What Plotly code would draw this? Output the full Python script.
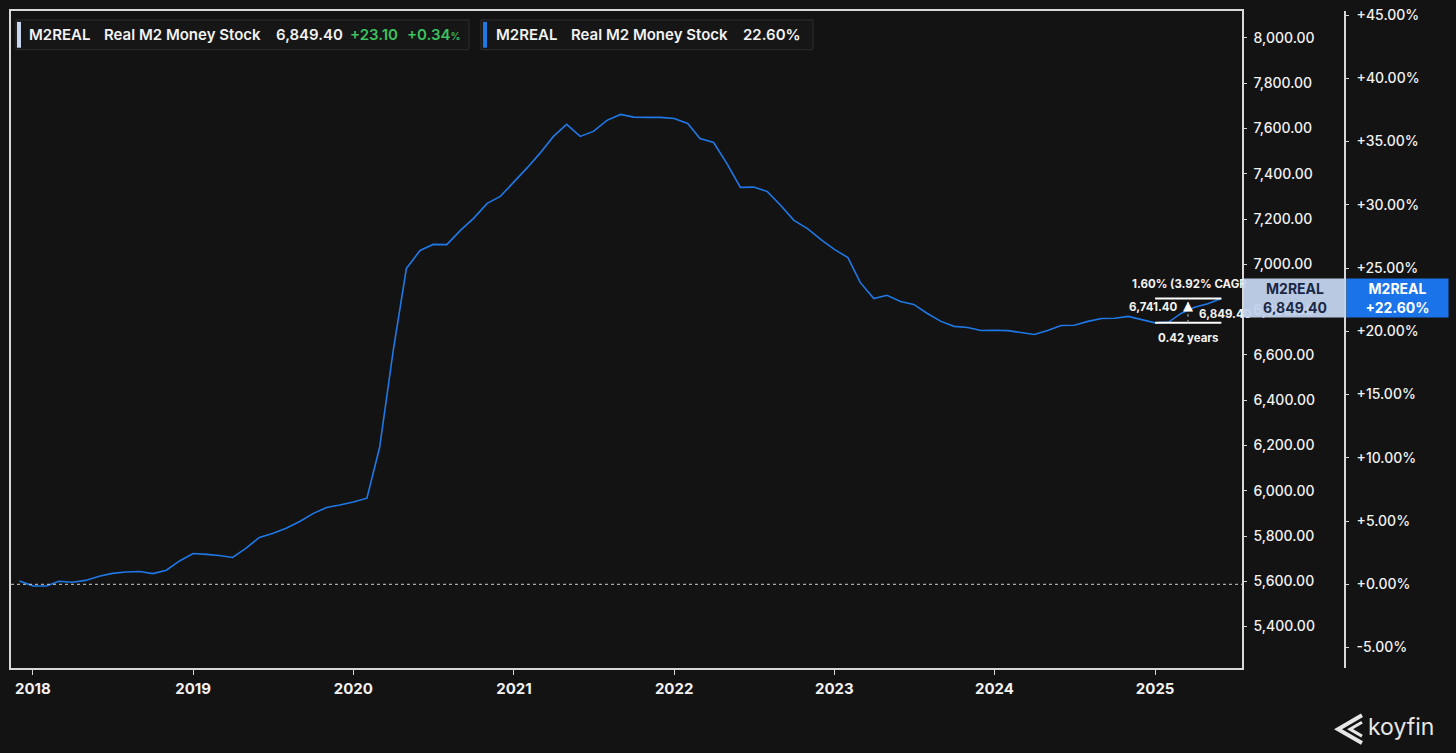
import plotly.graph_objects as go

W, H = 1456, 753

# ---------------- data ----------------
start_year, start_month = 2017, 12
m2real = [
    5601, 5580, 5579, 5600, 5596, 5604, 5622, 5635, 5641, 5643, 5634, 5649, 5690,   # 2017-12 .. 2018-12
    5723, 5719, 5714, 5705, 5745, 5794, 5811, 5834, 5864, 5899, 5926, 5937,         # 2019
    5950, 5967, 6192, 6620, 6982, 7061, 7088, 7087, 7150, 7203, 7269, 7300,         # 2020
    7362, 7428, 7490, 7565, 7618, 7565, 7587, 7636, 7662, 7650, 7649, 7649,         # 2021
    7644, 7622, 7556, 7538, 7446, 7340, 7341, 7322, 7260, 7194, 7158, 7110,         # 2022
    7066, 7030, 6920, 6849, 6863, 6836, 6823, 6783, 6748, 6726, 6721, 6708,         # 2023
    6709, 6707, 6699, 6690, 6708, 6730, 6731, 6748, 6761, 6762, 6770, 6757,         # 2024
    6741.4, 6745, 6783, 6810, 6826.3, 6849.4,                                      # 2025
]
dates = []
y, m = start_year, start_month
for _ in m2real:
    dates.append(f"{y:04d}-{m:02d}-01")
    m += 1
    if m > 12:
        m = 1
        y += 1

last_value = 6849.40
change_abs = "+23.10"
change_pct = "+0.34"
total_pct = 22.60
base_value = last_value / (1 + total_pct / 100)
pct_values = [(v / base_value - 1) * 100 for v in m2real]

year_ticks = ["2018-01-01", "2019-01-01", "2020-01-01", "2021-01-01",
              "2022-01-01", "2023-01-01", "2024-01-01", "2025-01-01"]
year_labels = ["2018", "2019", "2020", "2021", "2022", "2023", "2024", "2025"]
value_ticks = list(range(5400, 8001, 200))
pct_ticks = list(range(-5, 46, 5))
pct_labels = [f"{v:+.2f}%" for v in pct_ticks]

x_range = ["2017-11-12", "2025-07-18"]
y_range = [5219, 8119]
pct_range = [(y_range[0] / base_value - 1) * 100, (y_range[1] / base_value - 1) * 100]

meas_start, meas_end, meas_mid = "2025-01-01", "2025-06-01", "2025-03-17"
meas_start_val, meas_end_val = 6741.40, 6849.40
meas_text = "1.60% (3.92% CAGR"
meas_years = "0.42 years"

# ---------------- style ----------------
BG = "#131313"
FG = "#f2f2f2"
LINE = "#d8d8d8"
BLUE = "#1f78e6"
GREEN = "#3cc15e"
FONT = "Inter"

def px(x):
    return x / W

def py(yy):
    return 1 - yy / H

fig = go.Figure()
fig.add_trace(go.Scatter(x=dates, y=m2real, mode="lines",
                         line=dict(color=BLUE, width=1.6), hoverinfo="skip",
                         showlegend=False))
fig.add_trace(go.Scatter(x=dates, y=pct_values, mode="lines", yaxis="y2",
                         line=dict(color=BLUE, width=0), opacity=0, hoverinfo="skip",
                         showlegend=False))

fig.update_layout(
    width=W, height=H,
    paper_bgcolor=BG, plot_bgcolor=BG,
    margin=dict(l=0, r=0, t=0, b=0),
    font=dict(family=FONT, color=FG),
    showlegend=False,
    xaxis=dict(
        domain=[px(11), px(1242)], type="date", range=x_range,
        tickmode="array", tickvals=year_ticks, ticktext=year_labels,
        showgrid=False, zeroline=False,
        showline=True, mirror=True, linecolor=LINE, linewidth=1.5,
        ticks="outside", ticklen=6, tickcolor=LINE, tickwidth=1,
        tickfont=dict(size=15, color=FG, family=FONT, weight=700),
        ticklabelstandoff=1,
    ),
    yaxis=dict(
        domain=[1 - 667 / H, 1 - 6 / H], range=y_range, side="right",
        tickmode="array", tickvals=value_ticks,
        ticktext=[f"{v:,.2f}" for v in value_ticks],
        showgrid=False, zeroline=False,
        showline=True, mirror=True, linecolor=LINE, linewidth=1.5,
        ticks="outside", ticklen=3, tickcolor=LINE,
        tickfont=dict(size=14, color=FG, family=FONT, weight=500),
        ticklabelstandoff=4,
    ),
    yaxis2=dict(
        overlaying="y", anchor="free", position=px(1345), side="right",
        range=pct_range, tickmode="array", tickvals=pct_ticks, ticktext=pct_labels,
        showgrid=False, zeroline=False,
        showline=True, linecolor=LINE, linewidth=1.5,
        ticks="outside", ticklen=3, tickcolor=LINE,
        tickfont=dict(size=14, color=FG, family=FONT, weight=500),
        ticklabelstandoff=5,
    ),
)

shapes = []
# baseline (0%) dotted line
shapes.append(dict(type="line", xref="x domain", yref="y", x0=0, x1=1,
                   y0=base_value, y1=base_value,
                   line=dict(color="#cfcfcf", width=1, dash="dot")))
# measurement tool
shapes.append(dict(type="line", xref="x", yref="y", x0=meas_start, x1=meas_end,
                   y0=meas_end_val, y1=meas_end_val, line=dict(color="#ffffff", width=2)))
shapes.append(dict(type="line", xref="x", yref="y", x0=meas_start, x1=meas_end,
                   y0=meas_start_val, y1=meas_start_val, line=dict(color="#ffffff", width=2)))
shapes.append(dict(type="line", xref="x", yref="y", x0=meas_mid, x1=meas_mid,
                   y0=meas_start_val, y1=meas_end_val, line=dict(color="#bbbbbb", width=1, dash="dot")))

# legend boxes
shapes.append(dict(type="rect", xref="paper", yref="paper", x0=px(16), x1=px(469),
                   y0=py(45), y1=py(15), fillcolor="#161616",
                   line=dict(color="#2e2e2e", width=1)))
shapes.append(dict(type="rect", xref="paper", yref="paper", x0=px(17), x1=px(21),
                   y0=py(43), y1=py(17), fillcolor="#c9d7f0", line=dict(width=0)))
shapes.append(dict(type="rect", xref="paper", yref="paper", x0=px(481), x1=px(813),
                   y0=py(45), y1=py(15), fillcolor="#161616",
                   line=dict(color="#2e2e2e", width=1)))
shapes.append(dict(type="rect", xref="paper", yref="paper", x0=px(483), x1=px(487),
                   y0=py(43), y1=py(17), fillcolor=BLUE, line=dict(width=0)))

# koyfin logo icon (stylised chevrons)
shapes.append(dict(type="path", xref="paper", yref="paper",
                   path=f"M {px(1362)} {py(715)} L {px(1338)} {py(729)} L {px(1362)} {py(743)}",
                   line=dict(color="#e6e6e6", width=4)))
shapes.append(dict(type="path", xref="paper", yref="paper",
                   path=f"M {px(1362)} {py(722)} L {px(1350)} {py(729)} L {px(1362)} {py(736)}",
                   line=dict(color="#e6e6e6", width=3)))
fig.update_layout(shapes=shapes)

ann = []
def label(x, yy, text, color=FG, size=15, weight=600, xanchor="left", family=FONT):
    ann.append(dict(xref="paper", yref="paper", x=px(x), y=py(yy), text=text,
                    showarrow=False, xanchor=xanchor, yanchor="middle",
                    font=dict(size=size, color=color, family=family, weight=weight)))

# legend texts
label(27, 29.5, "M2REAL")
label(102, 29.5, "Real M2 Money Stock")
label(274, 29.5, f"{last_value:,.2f}")
label(348, 29.5, change_abs, color=GREEN)
label(405, 29.5, f"{change_pct}<span style='font-size:10px'>%</span>", color=GREEN)
label(494, 29.5, "M2REAL")
label(569, 29.5, "Real M2 Money Stock")
label(741, 29.5, f"{total_pct:.2f}%")

# measurement texts
ann.append(dict(xref="x", yref="y", x=meas_mid, y=meas_end_val, text="▲", showarrow=False,
                yanchor="top", yshift=2, font=dict(size=13, color="#ffffff", family="DejaVu Sans")))
label(1130, 281, meas_text, size=11.5, weight=700)
label(1180, 304, f"{meas_start_val:,.2f}", size=11.5, weight=700, xanchor="right")
label(1197, 311, f"{meas_end_val:,.2f}", size=11.5, weight=700)
label(1188, 335, meas_years, size=11.5, weight=700, xanchor="center")

# right-side value badges
ann.append(dict(xref="paper", yref="y", x=px(1243), y=last_value, xanchor="left", yanchor="middle",
                text=f"M2REAL<br>{last_value:,.2f}", showarrow=False, align="center",
                width=98, height=34, bgcolor="#c3d3ee", opacity=0.95, borderpad=2,
                font=dict(size=14, color="#1b2a48", family=FONT, weight=700)))
ann.append(dict(xref="paper", yref="y", x=px(1346), y=last_value, xanchor="left", yanchor="middle",
                text=f"M2REAL<br>+{total_pct:.2f}%", showarrow=False, align="center",
                width=97, height=34, bgcolor="#1a73e8", borderpad=2,
                font=dict(size=14, color="#ffffff", family=FONT, weight=700)))

# koyfin wordmark
label(1366, 727, "koyfin", color="#e6e6e6", size=23, weight=400)

fig.update_layout(annotations=ann)
fig.write_html("out.html", config={"displayModeBar": False},
               post_script="document.body.style.margin='0';document.body.style.overflow='hidden';document.body.style.background='#131313';")
